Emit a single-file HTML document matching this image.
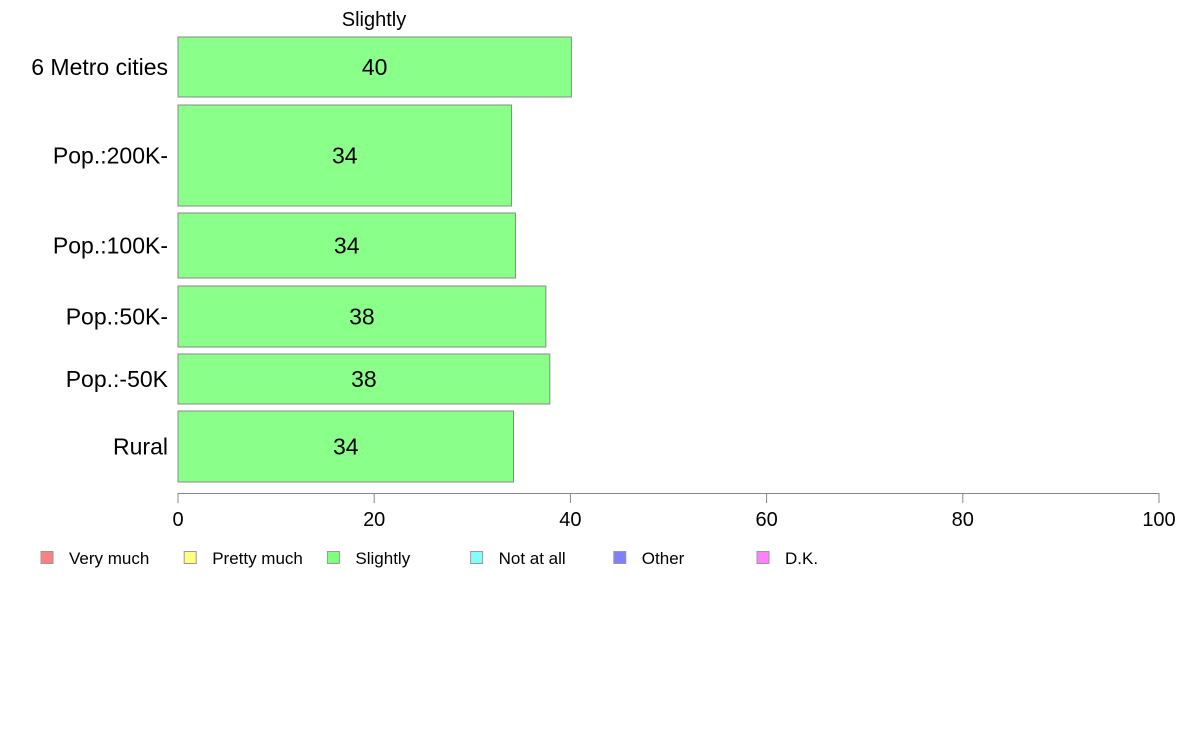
<!DOCTYPE html>
<html><head><meta charset="utf-8"><style>
body{margin:0;background:#fff;}
svg{display:block;font-family:"Liberation Sans",Arial,sans-serif;}
</style></head><body>
<svg id="chart" width="1188" height="736" viewBox="0 0 1188 736" xmlns="http://www.w3.org/2000/svg">
<text x="374" y="26" font-size="20" text-anchor="middle">Slightly</text>
<g id="bars"></g>
<g id="axis"></g>
<g id="legend"></g>
</svg>
<script>
const categories = ["6 Metro cities","Pop.:200K-","Pop.:100K-","Pop.:50K-","Pop.:-50K","Rural"];
const values = [40.1, 34.0, 34.4, 37.5, 37.9, 34.2];
const labels = ["40","34","34","38","38","34"];
const rowTops = [37, 105, 213, 286, 354, 411];
const rowBottoms = [97, 206, 278, 347, 404, 482];
const ticks = [0,20,40,60,80,100];
const legendNames = ["Very much","Pretty much","Slightly","Not at all","Other","D.K."];
const legendColors = ["#ff8080","#ffff80","#80ff80","#80ffff","#8080ff","#ff80ff"];

const NS="http://www.w3.org/2000/svg";
const x0=178, x1=1159;
const xs=v=>x0+(v/100)*(x1-x0);
function mk(tag,attrs,parent){const e=document.createElementNS(NS,tag);for(const k in attrs)e.setAttribute(k,attrs[k]);parent.appendChild(e);return e;}
const gb=document.getElementById('bars');
categories.forEach((c,i)=>{
  const y=rowTops[i], h=rowBottoms[i]-rowTops[i];
  const r=mk('rect',{x:x0,y:y,width:xs(values[i])-x0,height:h,fill:'#8aff8a',stroke:'#8a8a8a','stroke-width':1},gb);
  
  
  const t=mk('text',{x:(x0+xs(values[i]))/2,y:y+h/2+8,'font-size':23,'text-anchor':'middle'},gb);
  t.textContent=labels[i];
  
  
  const cl=mk('text',{x:168,y:y+h/2+8,'font-size':23,'text-anchor':'end'},gb);
  cl.textContent=c;
  
  
});
const ga=document.getElementById('axis');
const al=mk('line',{x1:x0,x2:x1,y1:493.5,y2:493.5,stroke:'#888','stroke-width':1},ga);


ticks.forEach(t=>{
  const tl=mk('line',{x1:xs(t),x2:xs(t),y1:493,y2:503,stroke:'#888','stroke-width':1},ga);
  
  
  const tt=mk('text',{x:xs(t),y:526,'font-size':20,'text-anchor':'middle'},ga);
  tt.textContent=t;
  
  
});
const gl=document.getElementById('legend');
legendNames.forEach((n,i)=>{
  const lx=41+i*143.2;
  const g=mk('g',{},gl);
  
  
  mk('rect',{x:lx,y:551.5,width:12,height:12,fill:legendColors[i],stroke:'#999','stroke-width':1},g);
  const t=mk('text',{x:lx+28,y:564,'font-size':17},g);
  t.textContent=n;
});
</script>
</body></html>
